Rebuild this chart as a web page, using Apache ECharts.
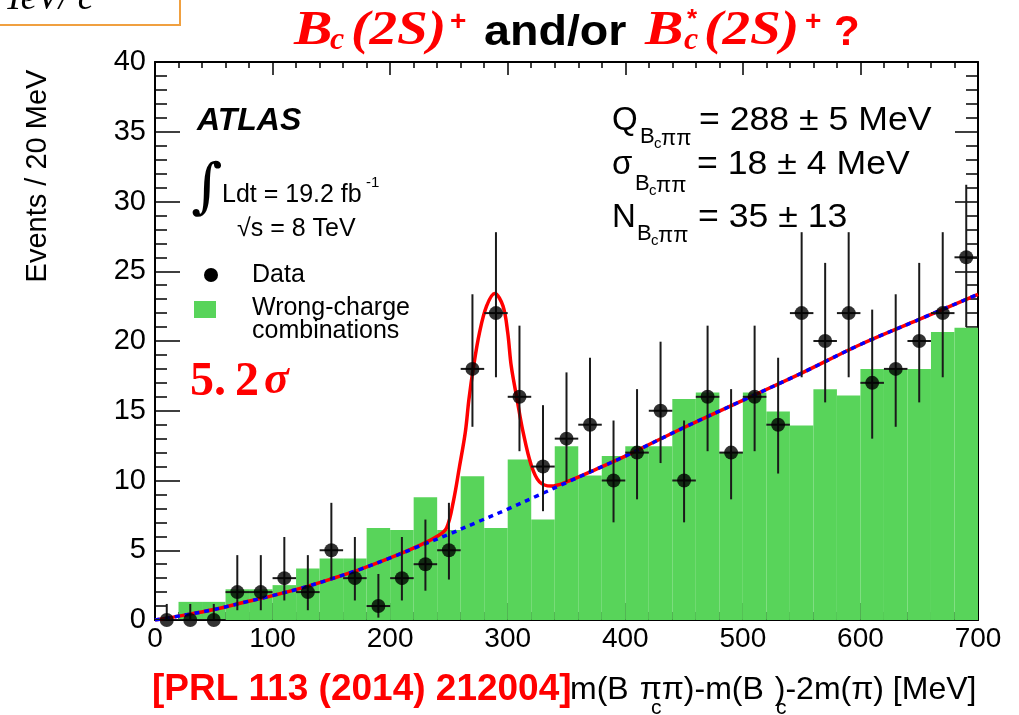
<!DOCTYPE html>
<html>
<head>
<meta charset="utf-8">
<script src="https://cdn.jsdelivr.net/npm/echarts@6/dist/echarts.min.js"></script>
<style>
html,body{margin:0;padding:0;background:#fff;}
#chart{width:1019px;height:715px;}
</style>
</head>
<body>
<div id="chart"></div>
<script>
// ---- data ----
const massCenters = [10,30,50,70,90,110,130,150,170,190,210,230,250,270,290,310,330,350,370,390,410,430,450,470,490,510,530,550,570,590,610,630,650,670,690];
const binHalfWidth = 10;
const dataCounts = [0,0,0,2,2,3,2,5,3,1,3,4,5,18,22,16,11,13,14,10,12,15,10,16,12,16,14,22,20,22,17,18,20,22,26];
const errLow  = [0,0,0,0.7,0.7,1.4,0.7,2.9,1.4,0.17,1.4,2.1,2.9,13.85,17.4,12.1,7.8,9.9,10.6,7.0,8.65,11.25,7.0,12.1,8.65,12.1,10.5,17.4,15.6,17.4,13.0,13.85,15.6,17.4,21.0];
const errHigh = [1.15,1.15,1.15,4.65,4.65,5.95,4.65,8.4,5.95,3.3,5.95,7.2,8.4,23.35,27.8,21.1,15.4,17.75,18.8,14.3,16.55,19.95,14.3,21.1,16.55,21.1,18.8,27.8,25.6,27.8,22.25,23.35,25.6,27.8,31.2];
const wrongCharge = [0,1.3,1.3,2.2,2.2,2.5,3.7,4.4,4.4,6.6,6.45,8.8,6.45,10.3,6.6,11.5,7.2,12.45,10.35,11.75,12.45,12.45,15.85,16.3,12.05,16.3,14.95,13.95,16.55,16.1,18.0,18.0,18.0,20.65,20.95];
const fitMass  = [0,25,50,75,100,125,150,175,200,225,240,248,254,259,264,267,271,276,282,289,296,300,303,308,313,320,327,337,350,375,400,450,500,550,600,650,700];
const fitTotal = [0,0.35,0.75,1.25,1.75,2.3,2.95,3.65,4.45,5.35,6.0,6.6,8.6,11.0,13.5,15.8,18.2,20.6,22.5,23.4,22.5,20.6,18.2,15.8,13.5,11.1,9.9,9.6,9.9,10.8,11.75,13.8,15.75,17.7,19.75,21.55,23.35];
const bgMass   = [0,25,50,75,100,125,150,175,200,225,250,275,300,325,350,375,400,450,500,550,600,650,700];
const bgValues = [0,0.35,0.75,1.25,1.75,2.3,2.95,3.65,4.45,5.3,6.15,7.05,7.95,8.9,9.85,10.8,11.75,13.8,15.75,17.7,19.75,21.55,23.35];

// ---- build chart ----
const chart = echarts.init(document.getElementById('chart'), null, {renderer:'canvas'});
const SANS = '"Liberation Sans", Arial, Helvetica, sans-serif';
const SERIF = '"Liberation Serif", "DejaVu Serif", serif';

const histData = massCenters.map((c,i)=>[c-binHalfWidth, c+binHalfWidth, wrongCharge[i]]);
const errData = massCenters.map((c,i)=>[c, errLow[i], errHigh[i], dataCounts[i]]);
const pointData = massCenters.map((c,i)=>[c, dataCounts[i]]);
const fitData = fitMass.map((m,i)=>[m, fitTotal[i]]);
const bgData = bgMass.map((m,i)=>[m, bgValues[i]]);

const axisLineStyle = {color:'#000', width:2};
const tickStyle = {color:'#000', width:1.5};

function xAx(pos, showLabel, majLen, minLen){
  return {type:'value', min:0, max:700, interval:100, position:pos, gridIndex:0,
    axisLine:{show:true, onZero:false, lineStyle:axisLineStyle},
    axisTick:{show:true, inside:true, length:majLen, lineStyle:tickStyle},
    minorTick:{show:true, splitNumber:5, length:minLen, lineStyle:tickStyle},
    axisLabel:{show:showLabel, fontSize:28, color:'#000', fontFamily:SANS, margin:5},
    splitLine:{show:false}, minorSplitLine:{show:false}};
}
function yAx(pos, showLabel, majLen, minLen){
  return {type:'value', min:0, max:40, interval:5, position:pos, gridIndex:0,
    axisLine:{show:true, onZero:false, lineStyle:axisLineStyle},
    axisTick:{show:true, inside:true, length:majLen, lineStyle:tickStyle},
    minorTick:{show:true, splitNumber:5, length:minLen, lineStyle:tickStyle},
    axisLabel:{show:showLabel, fontSize:29, color:'#000', fontFamily:SANS, margin:9},
    splitLine:{show:false}, minorSplitLine:{show:false}};
}

function txt(x, y, text, font, fill, extra){
  return Object.assign({type:'text', x:x, y:y, silent:true, z:100,
    style:{text:text, font:font, fill:fill||'#000', align:'left', verticalAlign:'middle'}}, extra||{});
}

const RED = '#FF0000';
const titleMain = 'italic bold 48px ' + SERIF;
const titleSub = 'italic bold 32px ' + SERIF;
const statMain = '33px ' + SANS;
const statSub = '22px ' + SANS;
const statSubC = '15px ' + SANS;
const wide = {scaleX:1.15};

const graphics = [
  // top-left clipped box
  {type:'rect', shape:{x:-2, y:-10, width:182, height:35}, style:{fill:'none', stroke:'#F0A040', lineWidth:2}, z:100},
  txt(4, 0, 'TeV/ c', 'italic 36px ' + SERIF, '#000'),
  // title
  txt(294, 32, 'B', titleMain, RED, {scaleX:1.2}),
  txt(330, 41, 'c', titleSub, RED),
  txt(351, 32, '(2S)', titleMain, RED, wide),
  txt(450, 22, '+', 'bold 28px ' + SANS, RED),
  txt(484, 33, 'and/or', 'bold 42px ' + SANS, '#000', {scaleX:1.11}),
  txt(645, 32, 'B', titleMain, RED, {scaleX:1.2}),
  txt(684, 41, 'c', titleSub, RED),
  txt(687, 20, '*', 'bold 26px ' + SANS, RED),
  txt(704, 32, '(2S)', titleMain, RED, wide),
  txt(805, 22, '+', 'bold 28px ' + SANS, RED),
  txt(834, 33, '?', 'bold 42px ' + SANS, RED),
  // ATLAS block
  txt(197, 121, 'ATLAS', 'italic bold 32px ' + SANS, '#000'),
  txt(191, 190, '\u222B', '60px "DejaVu Serif", serif', '#000'),
  txt(222, 195, 'Ldt = 19.2 fb', '25px ' + SANS, '#000'),
  txt(366, 183, '-1', '15px ' + SANS, '#000'),
  txt(237, 229, '\u221As = 8 TeV', '25px ' + SANS, '#000'),
  // legend
  {type:'circle', shape:{cx:211, cy:275, r:7}, style:{fill:'#000'}, z:100},
  txt(252, 275, 'Data', '25px ' + SANS, '#000'),
  {type:'rect', shape:{x:194, y:301, width:22, height:17}, style:{fill:'#58D45A'}, z:100},
  txt(252, 308, 'Wrong-charge', '25px ' + SANS, '#000'),
  txt(252, 331, 'combinations', '25px ' + SANS, '#000'),
  // significance
  txt(190, 383, '5.', 'bold 48px ' + SERIF, RED),
  txt(235, 383, '2', 'bold 48px ' + SERIF, RED),
  txt(264, 381, '\u03C3', 'italic bold 46px ' + SERIF, RED),
  // fit results
  txt(612, 121, 'Q', statMain), txt(640, 137, 'B', statSub), txt(654, 144, 'c', statSubC), txt(661, 139, '\u03C0\u03C0', statSub),
  txt(699, 121, '= 288 \u00B1 5 MeV', statMain, null, {scaleX:1.08}),
  txt(612, 165, '\u03C3', statMain), txt(635, 184, 'B', statSub), txt(649, 191, 'c', statSubC), txt(656, 186, '\u03C0\u03C0', statSub),
  txt(697, 165, '= 18 \u00B1 4 MeV', statMain, null, {scaleX:1.08}),
  txt(612, 218, 'N', statMain), txt(637, 234, 'B', statSub), txt(651, 241, 'c', statSubC), txt(658, 236, '\u03C0\u03C0', statSub),
  txt(698, 218, '= 35 \u00B1 13', statMain, null, {scaleX:1.08}),
  // y axis title
  {type:'text', x:38, y:176, rotation:Math.PI/2, silent:true, z:100,
   style:{text:'Events / 20 MeV', font:'29px ' + SANS, fill:'#000', align:'center', verticalAlign:'middle'}},
  // x axis title
  txt(152, 690, '[PRL 113 (2014) 212004]', 'bold 37px ' + SANS, RED),
  {type:'text', x:570, y:690, silent:true, z:100,
   style:{text:'{m|m(B}{g| }{m|\u03C0\u03C0)-m(B}{g| }{m|)-2m(\u03C0) [MeV]}', align:'left', verticalAlign:'middle', fill:'#000',
     rich:{m:{font:'32px ' + SANS, fill:'#000'},
           g:{font:'21px ' + SANS, width:11}}}},
  txt(651, 708, 'c', '21px ' + SANS, '#000'),
  txt(776, 708, 'c', '21px ' + SANS, '#000')
];

const option = {
  animation:false,
  backgroundColor:'#fff',
  grid:{left:155, right:41, top:62, bottom:95, show:false},
  xAxis:[xAx('bottom', true, 17, 8), xAx('top', false, 13, 6)],
  yAxis:[yAx('left', true, 25, 12), yAx('right', false, 23, 12)],
  graphic:{elements:graphics},
  series:[
    {type:'custom', name:'Wrong-charge combinations', xAxisIndex:0, yAxisIndex:0, z:1, clip:true,
     data:histData, encode:{x:[0,1], y:2},
     renderItem:function(params, api){
       const p0 = api.coord([api.value(0), api.value(2)]);
       const p1 = api.coord([api.value(1), 0]);
       return {type:'rect', shape:{x:p0[0], y:p0[1], width:p1[0]-p0[0], height:p1[1]-p0[1]},
               style:{fill:'#58D45A', stroke:null}};
     }},
    {type:'line', name:'Fit', data:fitData, smooth:0.35, showSymbol:false, z:2,
     lineStyle:{color:'#FF0000', width:3.5}, xAxisIndex:0, yAxisIndex:0},
    {type:'line', name:'Background', data:bgData, smooth:0.35, showSymbol:false, z:3,
     lineStyle:{color:'#0000FF', width:3.5, type:[5,5]}, xAxisIndex:0, yAxisIndex:0},
    {type:'custom', name:'errors', data:errData, z:4, clip:true, encode:{x:0, y:[1,2]},
     renderItem:function(params, api){
       const x = api.value(0), lo = api.value(1), hi = api.value(2), y = api.value(3);
       const t = api.coord([x, hi]), b = api.coord([x, lo]);
       const l = api.coord([x - binHalfWidth, y]), r = api.coord([x + binHalfWidth, y]);
       return {type:'group', children:[
         {type:'line', shape:{x1:t[0], y1:t[1], x2:b[0], y2:b[1]}, style:{stroke:'#1a1a1a', lineWidth:2}},
         {type:'line', shape:{x1:l[0], y1:l[1], x2:r[0], y2:r[1]}, style:{stroke:'#1a1a1a', lineWidth:2}}
       ]};
     }},
    {type:'scatter', name:'Data', data:pointData, symbol:'circle', symbolSize:14, z:5,
     itemStyle:{color:'#000'}, xAxisIndex:0, yAxisIndex:0}
  ]
};
chart.setOption(option);
</script>
</body>
</html>
